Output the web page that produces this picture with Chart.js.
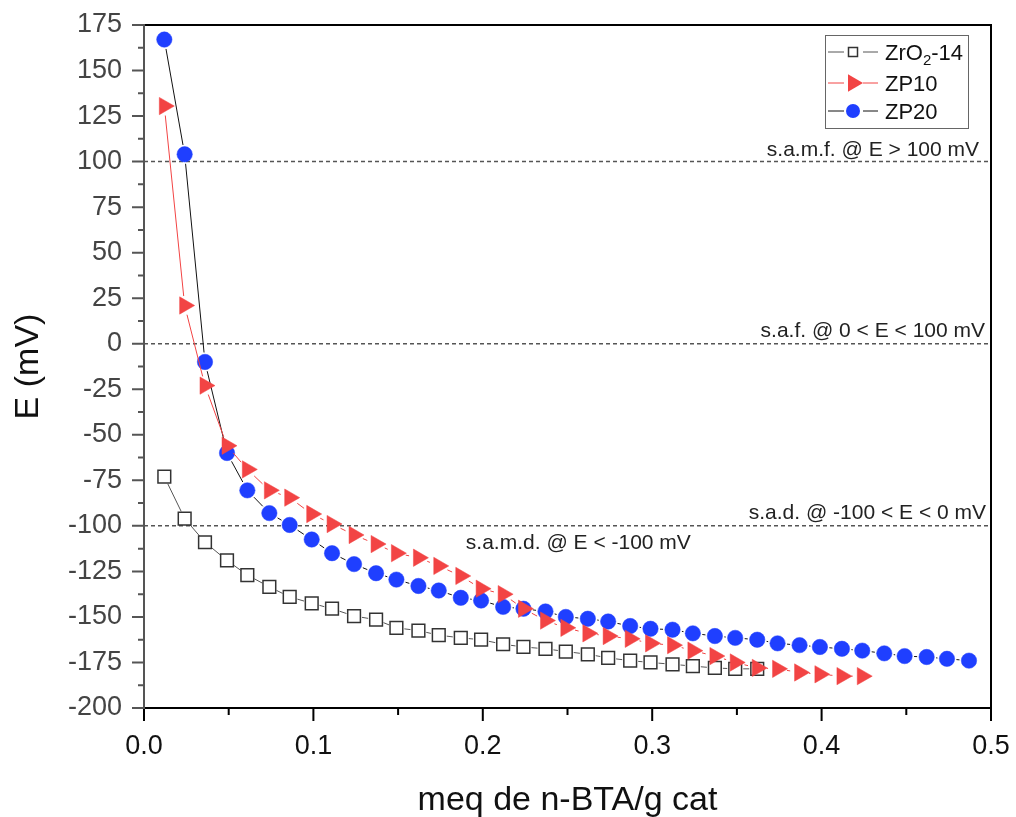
<!DOCTYPE html>
<html>
<head>
<meta charset="utf-8">
<title>E vs meq n-BTA</title>
<script src="https://cdn.jsdelivr.net/npm/chart.js@4"></script>
<style>
  html, body { margin: 0; padding: 0; background: #fff; }
  #wrap { width: 1016px; height: 817px; position: relative; }
</style>
</head>
<body>
<div id="wrap"><canvas id="chart"></canvas></div>
<script>
// meq de n-BTA/g cat (shared titration steps)
const meq = [0.012, 0.024, 0.036, 0.049, 0.061, 0.074, 0.086, 0.099, 0.111, 0.124,
             0.137, 0.149, 0.162, 0.174, 0.187, 0.199, 0.212, 0.224, 0.237, 0.249,
             0.262, 0.274, 0.287, 0.299, 0.312, 0.324, 0.337, 0.349, 0.362, 0.374,
             0.387, 0.399, 0.412, 0.424, 0.437, 0.449, 0.462, 0.474, 0.487];

// E (mV)
const eZrO2 = [-73, -96, -109, -119, -127, -133.5, -139, -142.5, -145.5, -149.5,
               -151.5, -156, -157.5, -160, -161.5, -162.5, -165, -166.5, -167.5, -169,
               -170.5, -172.5, -174, -175, -176, -177, -178, -178.5, -178.5];
const eZP10 = [130.5, 21, -23, -56, -69, -80.5, -84.5, -93.5, -99, -105,
               -110, -115, -117.5, -122, -127.5, -134.5, -137.5, -145.5, -152, -156,
               -159, -160.5, -162, -164.5, -165.5, -168.5, -171.5, -175, -178, -178.5,
               -180.5, -181.5, -182.5, -182.5];
const eZP20 = [167, 104, -10, -60, -80.5, -93, -99.5, -107.5, -115, -121,
               -126, -129.5, -133, -135.5, -139.5, -141, -144.5, -145.5, -147, -150,
               -151, -152.5, -155, -156.5, -157, -159, -160.5, -161.5, -162.5, -164.5,
               -165.5, -166.5, -167.5, -168.5, -170, -171.5, -172, -173, -174];

const seriesNames = ['ZrO2-14', 'ZP10', 'ZP20'];
const refLines = [100, 0, -100];
const zoneLabels = ['s.a.m.f. @ E > 100 mV', 's.a.f. @ 0 < E < 100 mV',
                    's.a.d. @ -100 < E < 0 mV', 's.a.m.d. @ E < -100 mV'];

const FONT = 'Arial, "Liberation Sans", Helvetica, sans-serif';
const RED = '#f24444';
const BLUE = '#1f3fff';
Chart.defaults.font.family = FONT;

const pts = (ys) => ys.map((v, i) => ({ x: meq[i], y: v }));

// Origin-style line: leave a gap around each symbol
function gapSegment(gap) {
  return {
    borderDash: (ctx) => {
      const L = Math.hypot(ctx.p1.x - ctx.p0.x, ctx.p1.y - ctx.p0.y);
      const d = L - 2 * gap;
      return d > 0 ? [0, gap, d, gap] : [0, Math.max(L, 1)];
    }
  };
}

const decor = {
  id: 'decor',
  beforeDatasetsDraw(chart) {
    const { ctx, chartArea: a, scales: { x, y } } = chart;
    ctx.save();
    ctx.strokeStyle = '#555';
    ctx.lineWidth = 1.5;
    ctx.setLineDash([4, 3]);
    refLines.forEach(v => {
      const py = y.getPixelForValue(v);
      ctx.beginPath();
      ctx.moveTo(a.left, py);
      ctx.lineTo(a.right, py);
      ctx.stroke();
    });
    ctx.setLineDash([]);

    ctx.fillStyle = '#222';
    ctx.font = '21px ' + FONT;
    ctx.textBaseline = 'alphabetic';
    ctx.textAlign = 'right';
    ctx.fillText(zoneLabels[0], a.right - 12, y.getPixelForValue(refLines[0]) - 6);
    ctx.fillText(zoneLabels[1], a.right - 6, y.getPixelForValue(refLines[1]) - 7);
    ctx.fillText(zoneLabels[2], a.right - 5, y.getPixelForValue(refLines[2]) - 7);
    ctx.textAlign = 'left';
    ctx.fillText(zoneLabels[3], x.getPixelForValue(0.19), y.getPixelForValue(refLines[2]) + 23);
    ctx.restore();
  },
  afterDraw(chart) {
    const { ctx, chartArea: a, scales: { x, y } } = chart;
    ctx.save();

    // frame
    ctx.lineWidth = 2;
    ctx.strokeStyle = '#000';
    ctx.beginPath();
    ctx.moveTo(a.left, a.bottom);
    ctx.lineTo(a.right, a.bottom);
    ctx.lineTo(a.right, a.top);
    ctx.lineTo(a.left, a.top);
    ctx.stroke();

    // x ticks (major on labels, minor halfway)
    ctx.beginPath();
    x.ticks.forEach((t, i) => {
      const px = x.getPixelForValue(t.value);
      ctx.moveTo(px, a.bottom);
      ctx.lineTo(px, a.bottom + 13);
      if (i < x.ticks.length - 1) {
        const pm = x.getPixelForValue((t.value + x.ticks[i + 1].value) / 2);
        ctx.moveTo(pm, a.bottom);
        ctx.lineTo(pm, a.bottom + 7);
      }
    });
    ctx.stroke();

    // left axis and y ticks
    ctx.strokeStyle = '#555';
    ctx.beginPath();
    ctx.moveTo(a.left, a.top - 1);
    ctx.lineTo(a.left, a.bottom + 1);
    y.ticks.forEach((t, i) => {
      const py = y.getPixelForValue(t.value);
      ctx.moveTo(a.left, py);
      ctx.lineTo(a.left - 12, py);
      if (i < y.ticks.length - 1) {
        const pm = y.getPixelForValue((t.value + y.ticks[i + 1].value) / 2);
        ctx.moveTo(a.left, pm);
        ctx.lineTo(a.left - 6, pm);
      }
    });
    ctx.stroke();

    // legend
    const lx = a.right - 166, ly = a.top + 10, lw = 143, lh = 93;
    ctx.lineWidth = 1;
    ctx.strokeStyle = '#666';
    ctx.fillStyle = '#fff';
    ctx.fillRect(lx, ly, lw, lh);
    ctx.strokeRect(lx + 0.5, ly + 0.5, lw, lh);
    const rows = [17, 48, 76];
    const lineCols = ['#555', RED, '#111'];
    chart.data.datasets.forEach((ds, i) => {
      const cy = ly + rows[i];
      const cx = lx + 28;
      ctx.strokeStyle = lineCols[i];
      ctx.lineWidth = 1;
      ctx.beginPath();
      ctx.moveTo(lx + 3, cy); ctx.lineTo(cx - 9, cy);
      ctx.moveTo(cx + 10, cy); ctx.lineTo(lx + 53, cy);
      ctx.stroke();
      if (i === 0) {
        ctx.fillStyle = '#fff';
        ctx.strokeStyle = '#333';
        ctx.lineWidth = 1.5;
        ctx.fillRect(cx - 4.5, cy - 4.5, 9, 9);
        ctx.strokeRect(cx - 4.5, cy - 4.5, 9, 9);
      } else if (i === 1) {
        ctx.fillStyle = RED;
        ctx.beginPath();
        ctx.moveTo(cx + 10, cy);
        ctx.lineTo(cx - 5, cy - 8.7);
        ctx.lineTo(cx - 5, cy + 8.7);
        ctx.closePath();
        ctx.fill();
      } else {
        ctx.fillStyle = BLUE;
        ctx.beginPath();
        ctx.arc(cx, cy, 7, 0, Math.PI * 2);
        ctx.fill();
      }
      ctx.fillStyle = '#111';
      ctx.textAlign = 'left';
      ctx.textBaseline = 'alphabetic';
      const tx = lx + 60, base = cy + 8;
      if (i === 0) {
        // ZrO2-14 with subscript
        ctx.font = '22px ' + FONT;
        ctx.fillText('ZrO', tx, base);
        let w = ctx.measureText('ZrO').width;
        ctx.font = '15px ' + FONT;
        ctx.fillText('2', tx + w, base + 5);
        w += ctx.measureText('2').width;
        ctx.font = '22px ' + FONT;
        ctx.fillText('-14', tx + w, base);
      } else {
        ctx.font = '22px ' + FONT;
        ctx.fillText(seriesNames[i], tx, base);
      }
    });
    ctx.restore();
  }
};

new Chart(document.getElementById('chart'), {
  type: 'scatter',
  data: {
    datasets: [
      {
        label: seriesNames[0], data: pts(eZrO2), showLine: true, order: 2,
        borderColor: '#555', borderWidth: 1, segment: gapSegment(8),
        pointStyle: 'rect', pointRadius: 9, pointHoverRadius: 9,
        pointBackgroundColor: '#fff', pointBorderColor: '#333', pointBorderWidth: 1.5
      },
      {
        label: seriesNames[1], data: pts(eZP10), showLine: true, order: 0,
        borderColor: RED, borderWidth: 1, segment: gapSegment(9.5),
        pointStyle: 'triangle', pointRotation: 90, pointRadius: 10, pointHoverRadius: 10,
        pointBackgroundColor: RED, pointBorderColor: RED, pointBorderWidth: 0.5
      },
      {
        label: seriesNames[2], data: pts(eZP20), showLine: true, order: 1,
        borderColor: '#111', borderWidth: 1, segment: gapSegment(9.5),
        pointStyle: 'circle', pointRadius: 7.7, pointHoverRadius: 7.7,
        pointBackgroundColor: BLUE, pointBorderColor: BLUE, pointBorderWidth: 0.5
      }
    ]
  },
  options: {
    responsive: true,
    maintainAspectRatio: false,
    animation: false,
    clip: false,
    layout: { padding: { top: 25, right: 25, left: 0, bottom: 0 } },
    plugins: { legend: { display: false }, tooltip: { enabled: false } },
    scales: {
      x: {
        type: 'linear', min: 0, max: 0.5,
        grid: { display: false, drawTicks: false },
        border: { display: false },
        ticks: { stepSize: 0.1, padding: 22, color: '#111', font: { size: 27 },
                 autoSkip: false, maxRotation: 0, callback: v => v.toFixed(1) },
        title: { display: true, text: 'meq de n-BTA/g cat', color: '#111',
                 font: { size: 34 }, padding: { top: 0, bottom: -4 } },
        afterFit: s => { s.height = 109; s.paddingLeft = 0; s.paddingRight = 0; }
      },
      y: {
        type: 'linear', min: -200, max: 175,
        grid: { display: false, drawTicks: false },
        border: { display: false },
        ticks: { stepSize: 25, padding: 22, color: '#444', font: { size: 27 }, autoSkip: false },
        title: { display: true, text: 'E (mV)', color: '#111',
                 font: { size: 34 }, padding: { top: 8, bottom: 0 } },
        afterFit: s => { s.width = 144; s.paddingTop = 0; s.paddingBottom = 0; }
      }
    }
  },
  plugins: [decor]
});
</script>
</body>
</html>
